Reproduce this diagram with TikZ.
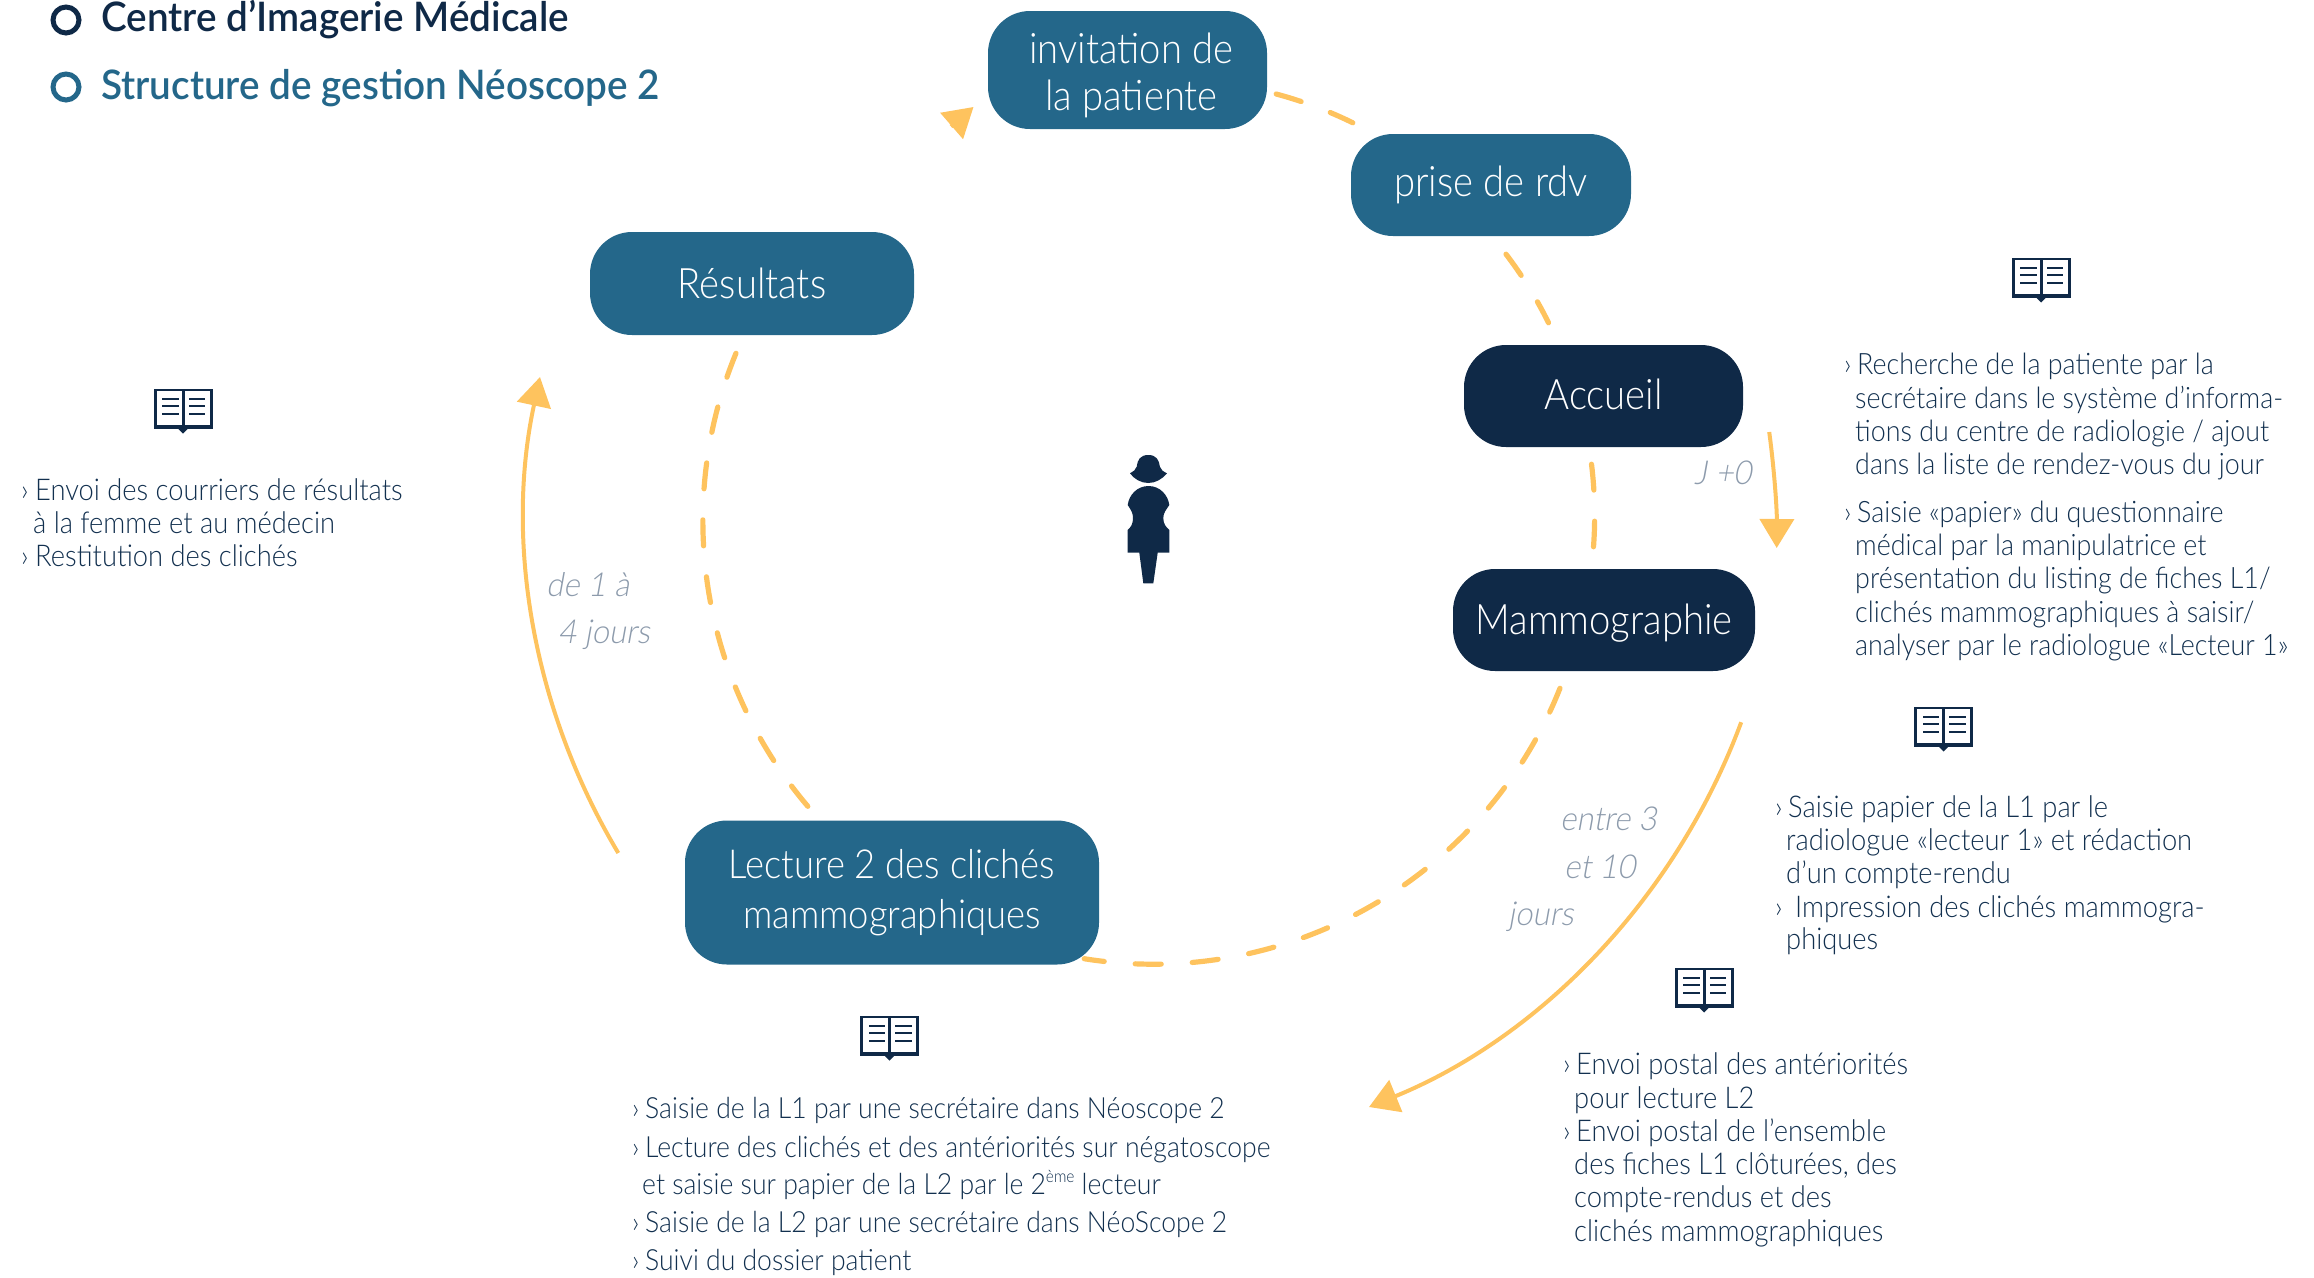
\documentclass[tikz,border=0pt]{standalone}
\usepackage{fontspec}
\usetikzlibrary{arrows.meta}
\newfontfamily\boxfont[FakeStretch=0.91]{Lato Light}
\newfontfamily\headfont[FakeStretch=0.95]{Lato Semibold}
\newfontfamily\labelfont[FakeStretch=0.94,FakeSlant=0.18]{Lato Light}
\definecolor{tealblue}{HTML}{24678A}
\definecolor{navyblue}{HTML}{0F2947}
\definecolor{sunorange}{HTML}{FEC35E}
\definecolor{slatetext}{HTML}{12304F}
\definecolor{greylabel}{HTML}{8D9BAC}
\tikzset{
  x=1pt, y=-1pt,
  stagebox/.style={rounded corners=42pt, inner sep=0pt, text=white, align=center, font=\boxfont\fontsize{42}{47}\selectfont},
  linetext/.style={anchor=base west, inner sep=0pt, text=slatetext, font=\boxfont\fontsize{30}{33}\selectfont},
  accline/.style={linetext, font=\boxfont\fontsize{29.5}{33}\selectfont},
  lecline/.style={linetext, font=\boxfont\fontsize{29.2}{33}\selectfont},
  headtext/.style={anchor=base west, inner sep=0pt, font=\headfont\fontsize{40.7}{44}\selectfont},
  delaytext/.style={anchor=base west, inner sep=0pt, text=greylabel, font=\labelfont\fontsize{33}{38}\selectfont},
  dashline/.style={draw=sunorange, line width=5.2pt, line cap=round, dash pattern=on 26pt off 31.1pt},
  solidline/.style={draw=sunorange, line width=4pt, -{Triangle[length=29pt,width=34pt]}},
  bookicon/.pic={
    \fill[navyblue] (-29.5,-22) rectangle (29.5,18);
    \fill[navyblue] (-5,18) -- (0,23) -- (5,18) -- cycle;
    \fill[white] (-26.5,-19.5) -- (-1.5,-19.5) -- (-1.5,14) -- (-26.5,14) -- cycle;
    \fill[white] (1.5,-19.5) -- (26.5,-19.5) -- (26.5,14) -- (1.5,14) -- cycle;
    \fill[navyblue] (-21,-13) rectangle (-4.5,-11);
    \fill[navyblue] (-21,-5.5) rectangle (-4.5,-3.5);
    \fill[navyblue] (-21,2.5) rectangle (-4.5,4.5);
    \fill[navyblue] (5.5,-13) rectangle (22,-11);
    \fill[navyblue] (5.5,-5.5) rectangle (22,-3.5);
    \fill[navyblue] (5.5,2.5) rectangle (22,4.5);
  }
}
\newcommand{\chev}[1]{\makebox[#1][l]{›}}
\begin{document}
\begin{tikzpicture}
  \useasboundingbox (0,0) rectangle (2314,1277);
  % legend
  \node[draw=navyblue, line width=5pt, circle, minimum size=26pt, inner sep=0pt] (legendA) at (66,20) {};
  \node[draw=tealblue, line width=5pt, circle, minimum size=26pt, inner sep=0pt] (legendB) at (66,87) {};
  \node[headtext, text=navyblue] (legendtextA) at (101,31) {Centre d’Imagerie Médicale};
  \node[headtext, text=tealblue] (legendtextB) at (101,99) {Structure de gestion Néoscope 2};
  % stages
  \node[stagebox, fill=tealblue, minimum width=279pt, minimum height=118pt] (invitation) at (1127.5,70) {\rule{0pt}{41pt}\hspace{8pt}invitation de\\\hspace{8pt}la patiente};
  \node[stagebox, fill=tealblue, minimum width=280pt, minimum height=102pt] (rdv) at (1491,185) {prise de rdv};
  \node[stagebox, fill=navyblue, minimum width=279pt, minimum height=102pt] (accueil) at (1603.5,396) {\rule[-3pt]{0pt}{1pt}Accueil};
  \node[stagebox, fill=navyblue, minimum width=302pt, minimum height=102pt] (mammo) at (1604,620) {\rule{0pt}{37pt}Mammographie};
  \node[stagebox, fill=tealblue, minimum width=414pt, minimum height=144pt, font=\boxfont\fontsize{40}{50}\selectfont] (lecture) at (892,892.5) {Lecture 2 des clichés\\mammographiques};
  \node[stagebox, fill=tealblue, minimum width=324pt, minimum height=103pt] (resultats) at (752,283.5) {Résultats};
  % woman
  \fill[navyblue] (1148.3,455) .. controls (1140,455) and (1137.5,460) .. (1136.7,466.7) .. controls (1136,470) and (1133,471.5) .. (1130,473.3) .. controls (1134,479) and (1141,483) .. (1148.3,483) .. controls (1155.5,483) and (1162.5,479) .. (1167,473.3) .. controls (1163.5,471.5) and (1160.5,470) .. (1159.9,466.7) .. controls (1159,460) and (1156.5,455) .. (1148.3,455) -- cycle;
  \fill[navyblue] (1148.5,486) .. controls (1137,486) and (1129,495) .. (1127.7,505) .. controls (1131,510) and (1133,513) .. (1133,518) .. controls (1133,524) and (1131,527) .. (1127.7,530) -- (1127.7,552.7) -- (1139.3,552.7) -- (1143.3,583.3) -- (1153.3,583.3) -- (1157.7,552.7) -- (1169.3,552.7) -- (1169.3,530) .. controls (1166,527) and (1163.3,524) .. (1163.3,518) .. controls (1163.3,513) and (1166,510) .. (1169.3,505) .. controls (1168,495) and (1160,486) .. (1148.5,486) -- cycle;
  % dashed circle
  \draw[dashline] ([shift={(9,24)}]invitation.east) to[bend left=5.6, looseness=.85] ([shift={(2,-11)}]rdv.north west);
  \draw[dashline] ([shift={(15,18)}]rdv.south) to[bend left=5.6, looseness=.85] ([shift={(-55,-22)}]accueil.north);
  \draw[dashline] ([shift={(-12,17)}]accueil.south) to[bend left=5.6, looseness=.85] ([shift={(-10.5,-22)}]mammo.north);
  \draw[dashline] ([shift={(-44,17)}]mammo.south) to[bend left=38.7, looseness=.957] ([shift={(-15,-6)}]lecture.south east);
  \draw[dashline] ([shift={(123,-14)}]lecture.north west) to[bend left=31.4, looseness=.918] ([shift={(-16,18)}]resultats.south);
  % delays
  \coordinate (tipinvite) at (973.5,107);
  \coordinate (tailinvite) at (951,126.5);
  \coordinate (tiplecture) at (1369,1107);
  \coordinate (tipresultats) at (540,377);
  \draw[solidline] (tailinvite) -- (tipinvite);
  \draw[solidline] ([shift={(26,36)}]accueil.east) to[bend left=4, looseness=.85] ([shift={(21.5,-72)}]mammo.east);
  \draw[solidline] ([shift={(-14,51)}]mammo.south east) to[bend left=23.7, looseness=.889] (tiplecture);
  \draw[solidline] ([shift={(-66.5,-39.5)}]lecture.west) to[bend left=21.5, looseness=.889] (tipresultats);
  \node[delaytext] (delayA) at (1694,484) {J +0};
  \node[delaytext] (delayB) at (1560,830) {entre 3};
  \node[delaytext] (delayC) at (1564,878) {et 10};
  \node[delaytext] (delayD) at (1508,925) {jours};
  \node[delaytext] (delayE) at (546,596) {de 1 à};
  \node[delaytext] (delayF) at (558,643) {4 jours};
  % books
  \pic (bookA) at (183,410.5) {bookicon};
  \pic (bookB) at (2041,279.5) {bookicon};
  \pic (bookC) at (1943.5,728.5) {bookicon};
  \pic (bookD) at (1704,989.5) {bookicon};
  \pic (bookE) at (889.5,1037.5) {bookicon};
  % notes
  \node[linetext] (resA) at (21,500) {\chev{14pt}Envoi des courriers de résultats};
  \node[linetext] (resB) at (33,533) {à la femme et au médecin};
  \node[linetext] (resC) at (21,566) {\chev{14pt}Restitution des clichés};
  \node[accline] (accA) at (1844,374) {\chev{13pt}Recherche de la patiente par la};
  \node[accline] (accB) at (1855,408) {secrétaire dans le système d’informa-};
  \node[accline] (accC) at (1855,441) {tions du centre de radiologie / ajout};
  \node[accline] (accD) at (1855,474) {dans la liste de rendez-vous du jour};
  \node[accline] (accE) at (1844,522) {\chev{13pt}Saisie «papier» du questionnaire};
  \node[accline] (accF) at (1855,555) {médical par la manipulatrice et};
  \node[accline] (accG) at (1855,588) {présentation du listing de fiches L1/};
  \node[accline] (accH) at (1855,622) {clichés mammographiques à saisir/};
  \node[accline] (accI) at (1855,655) {analyser par le radiologue «Lecteur 1»};
  \node[linetext] (mamA) at (1775,817) {\chev{13pt}Saisie papier de la L1 par le};
  \node[linetext] (mamB) at (1786,850) {radiologue «lecteur 1» et rédaction};
  \node[linetext] (mamC) at (1786,883) {d’un compte-rendu};
  \node[linetext] (mamD) at (1775,917) {\chev{20pt}Impression des clichés mammogra-};
  \node[linetext] (mamE) at (1786,949) {phiques};
  \node[linetext] (posA) at (1563,1074) {\chev{13pt}Envoi postal des antériorités};
  \node[linetext] (posB) at (1574,1108) {pour lecture L2};
  \node[linetext] (posC) at (1563,1141) {\chev{13pt}Envoi postal de l’ensemble};
  \node[linetext] (posD) at (1574,1174) {des fiches L1 clôturées, des};
  \node[linetext] (posE) at (1574,1207) {compte-rendus et des};
  \node[linetext] (posF) at (1574,1241) {clichés mammographiques};
  \node[lecline] (lecA) at (632,1118) {\chev{13pt}Saisie de la L1 par une secrétaire dans Néoscope 2};
  \node[lecline] (lecB) at (632,1157) {\chev{13pt}Lecture des clichés et des antériorités sur négatoscope};
  \node[lecline] (lecC) at (642,1194) {et saisie sur papier de la L2 par le 2\raisebox{12pt}{\fontsize{17}{17}\selectfont ème} lecteur};
  \node[lecline] (lecD) at (632,1232) {\chev{13pt}Saisie de la L2 par une secrétaire dans NéoScope 2};
  \node[lecline] (lecE) at (632,1270) {\chev{13pt}Suivi du dossier patient};
\end{tikzpicture}
\end{document}
